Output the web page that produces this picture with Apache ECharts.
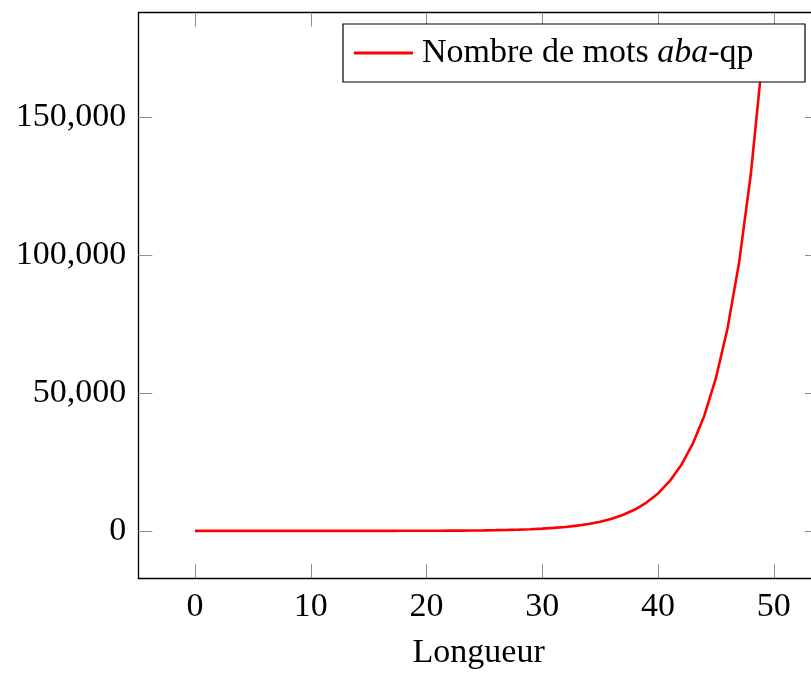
<!DOCTYPE html>
<html>
<head>
<meta charset="utf-8">
<script src="https://cdn.jsdelivr.net/npm/echarts@6/dist/echarts.min.js"></script>
<style>
html,body{margin:0;padding:0;background:#fff;overflow:hidden;width:811px;height:675px;}
#c{width:830px;height:675px;}
</style>
</head>
<body>
<div id="c"></div>
<script>
// Data
var lengths = [];
for (var i = 0; i <= 49; i++) lengths.push(i);
var counts = [1, 1, 1, 1, 1, 1, 1, 1, 2, 2,
  3, 4, 5, 7, 9, 12, 16, 21, 28, 37,
  49, 65, 86, 114, 151, 200, 265, 351, 465, 616,
  816, 1081, 1432, 1897, 2513, 3329, 4410, 5842, 7739, 10252,
  13581, 17991, 23833, 31572, 41824, 55405, 73396, 97229, 128801, 170625];
var xTicks = [0, 10, 20, 30, 40, 50];
var yTicks = [0, 50000, 100000, 150000];
var seriesName = 'Nombre de mots aba-qp';
var xTitle = 'Longueur';

var font = '"Liberation Serif", "Times New Roman", serif';
var pts = lengths.map(function (x, i) { return [x, counts[i]]; });

var tickStyle = { show: true, inside: true, length: 14, lineStyle: { color: '#8c8c8c', width: 1 } };
var lineStyle = { show: true, onZero: false, lineStyle: { color: '#000', width: 1.3 } };

var chart = echarts.init(document.getElementById('c'), null, { renderer: 'canvas' });
chart.setOption({
  backgroundColor: '#fff',
  animation: false,
  grid: { left: 138.3, top: 12.7, right: 11, bottom: 96.7, containLabel: false },
  legend: {
    left: 343, top: 24,
    backgroundColor: '#fff',
    borderColor: '#000', borderWidth: 1.2,
    padding: [12, 28, 12, 11],
    itemWidth: 59, itemHeight: 3,
    data: [{ name: seriesName, icon: 'rect' }],
    formatter: function () { return 'Nombre de mots {i|aba}-qp'; },
    textStyle: {
      fontFamily: font, fontSize: 34, color: '#000', lineHeight: 34,
      width: 355, padding: [0, 0, 0, 4],
      rich: { i: { fontFamily: font, fontSize: 34, fontStyle: 'italic', color: '#000', lineHeight: 34 } }
    }
  },
  xAxis: [{
    type: 'value', min: -4.9, max: 53.9, position: 'bottom',
    name: xTitle, nameLocation: 'middle', nameGap: 58,
    nameTextStyle: { fontFamily: font, fontSize: 34, color: '#000' },
    axisLine: lineStyle,
    axisTick: Object.assign({ customValues: xTicks }, tickStyle),
    axisLabel: { customValues: xTicks, fontFamily: font, fontSize: 34, color: '#000', margin: 12 },
    splitLine: { show: false }
  }, {
    type: 'value', min: -4.9, max: 53.9, position: 'top',
    axisLine: lineStyle,
    axisTick: Object.assign({ customValues: xTicks }, tickStyle),
    axisLabel: { show: false },
    splitLine: { show: false }
  }],
  yAxis: [{
    type: 'value', min: -17062.5, max: 187687.5, position: 'left',
    axisLine: lineStyle,
    axisTick: Object.assign({ customValues: yTicks }, tickStyle),
    axisLabel: {
      customValues: yTicks, fontFamily: font, fontSize: 34, color: '#000', margin: 12,
      formatter: function (v) { return v.toLocaleString('en-US'); }
    },
    splitLine: { show: false }
  }, {
    type: 'value', min: -17062.5, max: 187687.5, position: 'right',
    axisLine: lineStyle,
    axisTick: Object.assign({ customValues: yTicks }, tickStyle),
    axisLabel: { show: false },
    splitLine: { show: false }
  }],
  series: [{
    name: seriesName,
    type: 'line',
    xAxisIndex: 0, yAxisIndex: 0,
    data: pts,
    showSymbol: false,
    symbol: 'none',
    color: '#ff0000',
    lineStyle: { color: '#ff0000', width: 2.6 },
    clip: true
  }]
});
</script>
</body>
</html>
